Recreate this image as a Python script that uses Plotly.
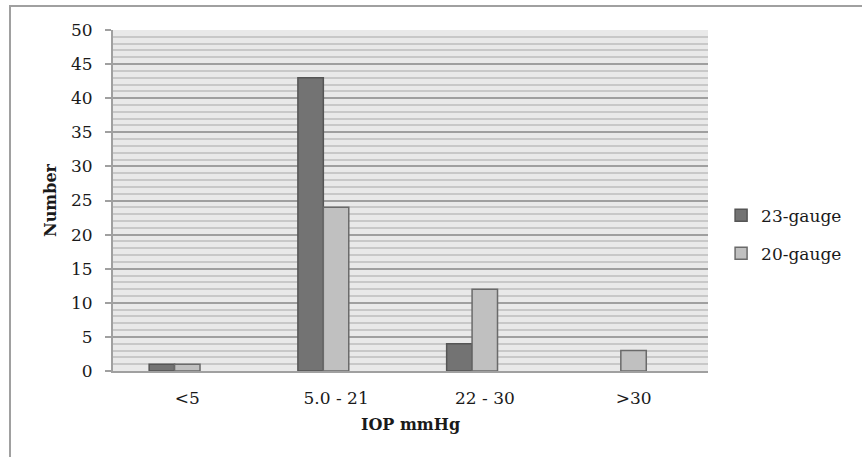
import plotly.graph_objects as go

categories = ["<5", "5.0 - 21", "22 - 30", ">30"]
gauge23 = [1, 43, 4, 0]
gauge20 = [1, 24, 12, 3]
series_names = ["23-gauge", "20-gauge"]

FONT = "DejaVu Serif"
TXT = "#1a1a1a"
AX = "#a0a0a0"


def outline_widths(values):
    # Excel draws no outline for zero-height bars
    return [1.5 if v > 0 else 0 for v in values]


fig = go.Figure()
fig.add_trace(go.Bar(
    x=categories, y=gauge23, name=series_names[0], legendgroup="a",
    width=0.171, offset=-0.257,
    marker=dict(color="#737373", line=dict(color="#555555", width=outline_widths(gauge23))),
))
fig.add_trace(go.Bar(
    x=categories, y=gauge20, name=series_names[1], legendgroup="b",
    width=0.171, offset=-0.086,
    marker=dict(color="#c0c0c0", line=dict(color="#6a6a6a", width=outline_widths(gauge20))),
))

fig.update_layout(
    width=862, height=457,
    margin=dict(l=113, r=154, t=30, b=86, autoexpand=False),
    paper_bgcolor="white",
    plot_bgcolor="#e9e9e9",
    font=dict(family=FONT, size=17, color=TXT),
    barmode="overlay",
    showlegend=True,
    legend=dict(x=1.022, y=0.40, xanchor="left", yanchor="middle",
                font=dict(family=FONT, size=17, color=TXT),
                tracegroupgap=13, itemwidth=30, bgcolor="rgba(0,0,0,0)"),
    xaxis=dict(
        type="category", range=[-0.5, 3.5],
        showline=True, linecolor=AX, linewidth=2,
        ticks="", showgrid=False, zeroline=False,
        ticklabelstandoff=11,
        tickfont=dict(family=FONT, size=17, color=TXT),
        title=dict(text="<b>IOP mmHg</b>", font=dict(family=FONT, size=16, color=TXT), standoff=11),
    ),
    yaxis=dict(
        range=[0, 50], dtick=5, tick0=0,
        showline=True, linecolor=AX, linewidth=2,
        ticks="outside", ticklen=6, tickcolor=AX, tickwidth=2,
        ticklabelstandoff=9,
        showgrid=True, gridcolor="#9f9f9f", gridwidth=1.5,
        zeroline=False,
        minor=dict(dtick=1, showgrid=True, gridcolor="#c8c8c8", gridwidth=1.5, ticks=""),
        tickfont=dict(family=FONT, size=17, color=TXT),
        title=dict(text="<b>Number</b>", font=dict(family=FONT, size=16, color=TXT), standoff=10),
    ),
    shapes=[dict(type="rect", xref="paper", yref="paper",
                 x0=(10 - 113) / 595, x1=1.5, y0=-0.5, y1=(371 - 6) / 341,
                 line=dict(color="#a0a0a0", width=2), fillcolor="rgba(0,0,0,0)", layer="below")],
)

fig.write_html("out.html", config={"displayModeBar": False},
               post_script="document.body.style.margin='0px';")
